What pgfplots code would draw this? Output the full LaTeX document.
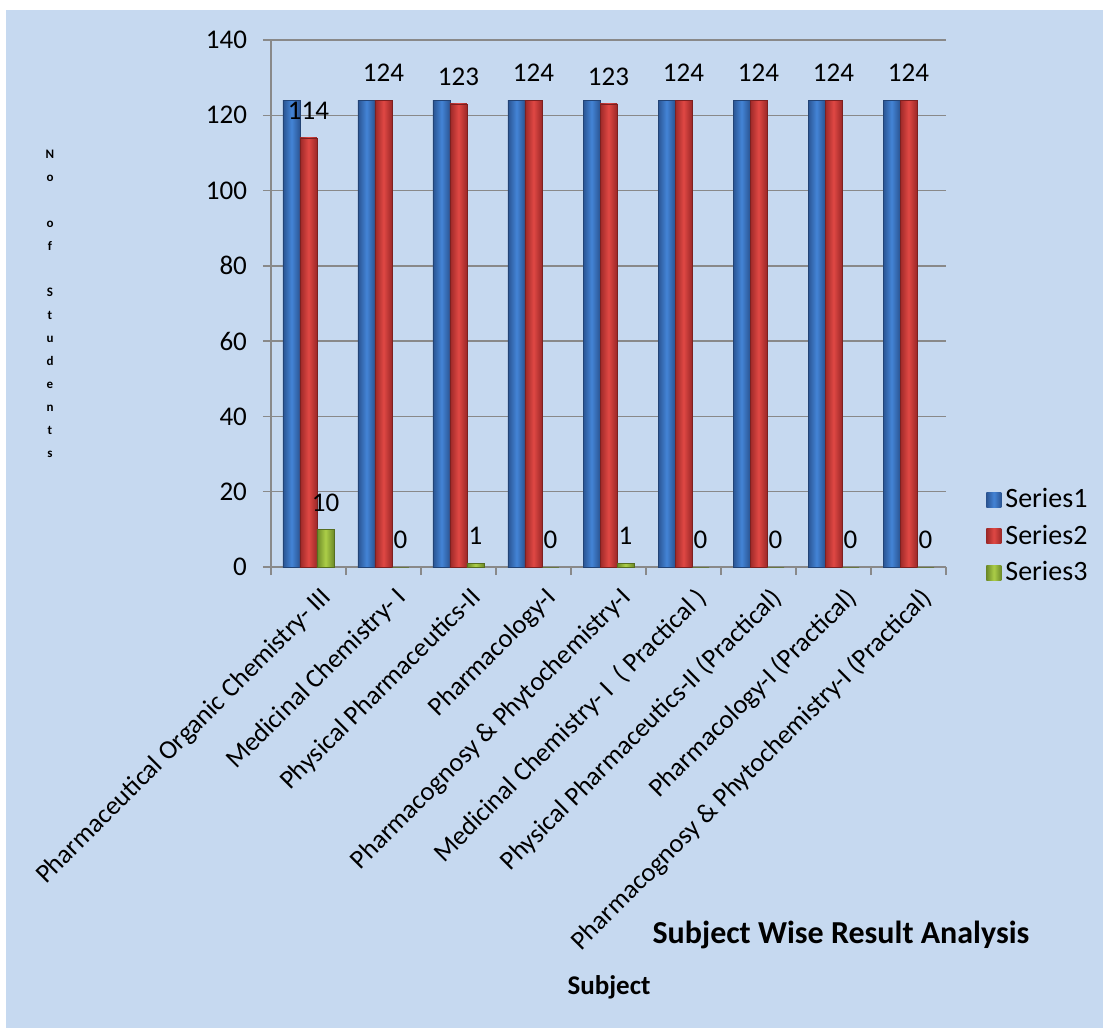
\documentclass[border=0pt]{standalone}
\usepackage{fontspec}
\setmainfont{Carlito}
\usepackage{pgfplots}
\usepackage{pgfplotstable}
\pgfplotsset{compat=1.18}

\definecolor{bgblue}{RGB}{198,217,240}
\definecolor{gridgray}{RGB}{137,137,137}
\definecolor{bluedk}{RGB}{42,84,146}
\definecolor{bluelt}{RGB}{68,132,214}
\definecolor{reddk}{RGB}{156,40,40}
\definecolor{redlt}{RGB}{224,72,68}
\definecolor{grndk}{RGB}{108,138,40}
\definecolor{grnlt}{RGB}{172,206,72}

\pgfplotstableread{
x s1  s2  s3
0 124 114 10
1 124 124 0
2 124 123 1
3 124 124 0
4 124 123 1
5 124 124 0
6 124 124 0
7 124 124 0
8 124 124 0
}\results

\pgfplotsset{
  ser1/.style={draw=bluedk!80!black, line width=0.3pt, left color=bluedk, right color=bluedk, middle color=bluelt},
  ser2/.style={draw=reddk!80!black, line width=0.3pt, left color=reddk, right color=reddk, middle color=redlt},
  ser3/.style={draw=grndk!80!black, line width=0.3pt, left color=grndk, right color=grndk, middle color=grnlt},
}

\begin{document}
\begin{tikzpicture}
% picture frame: 1px = 0.5pt, axis box south west at (0,0)
\useasboundingbox (-135.5pt,-230.5pt) rectangle (416pt,283.5pt);
\fill[white] (-135.5pt,-230.5pt) rectangle (416pt,283.5pt);
\fill[bgblue] (-132.5pt,-230.5pt) rectangle (416pt,278.5pt);

\begin{axis}[
  at={(0,0)}, anchor=south west,
  scale only axis,
  width=337.5pt, height=263.5pt,
  ymin=0, ymax=140, ytick={0,20,...,140},
  xmin=-0.5, xmax=8.5,
  xtick={0,...,8},
  minor xtick={-0.5,0.5,...,8.5},
  major x tick style={draw=none},
  xticklabels={
    Pharmaceutical Organic Chemistry- III,
    Medicinal Chemistry- I,
    Physical Pharmaceutics-II,
    Pharmacology-I,
    Pharmacognosy \& Phytochemistry-I,
    {Medicinal Chemistry- I\ \ (\ Practical\ )},
    Physical Pharmaceutics-II (Practical),
    Pharmacology-I (Practical),
    Pharmacognosy \& Phytochemistry-I (Practical)},
  xticklabel style={rotate=45, anchor=north east, font=\fontsize{13.3}{15}\selectfont, xshift=3.5pt, yshift=-4pt},
  yticklabel style={font=\fontsize{13.5}{16}\selectfont, xshift=-4.5pt},
  /pgf/number format/assume math mode=true,
  axis lines*=left,
  axis line style={gridgray, line width=0.75pt},
  tick style={gridgray, line width=0.75pt},
  tick align=outside,
  major tick length=4pt, minor tick length=4pt,
  ymajorgrids, grid style={gridgray, line width=0.75pt},
  legend style={at={(354.5pt,43.5pt)}, anchor=north west, draw=none, fill=none,
    font=\fontsize{14}{16}\selectfont, row sep=3.2pt,
    /tikz/every even column/.append style={column sep=2pt}},
  legend cell align=left,
  legend image code/.code={\draw[#1, draw=none] (0pt,-3.75pt) rectangle (7.5pt,3.75pt);},
  every node near coord/.append style={anchor=center, yshift=13.5pt, font=\fontsize{13.5}{16}\selectfont, black},
]
% one plot per bar, so that each bar gets its own shading
\pgfplotsinvokeforeach{0,...,8}{
  \addplot[ybar, bar width=8.5pt, bar shift=-8.5pt, ser1, forget plot]
    table[x=x, y=s1, restrict x to domain=#1:#1] {\results};
  \addplot[ybar, bar width=8.5pt, bar shift=0pt, ser2, forget plot, nodes near coords]
    table[x=x, y=s2, restrict x to domain=#1:#1] {\results};
  \addplot[ybar, bar width=8.5pt, bar shift=8.5pt, ser3, forget plot, nodes near coords,
    every node near coord/.append style={xshift=8.5pt}]
    table[x=x, y=s3, restrict x to domain=#1:#1] {\results};
}
\addlegendimage{ser1}\addlegendentry{Series1}
\addlegendimage{ser2}\addlegendentry{Series2}
\addlegendimage{ser3}\addlegendentry{Series3}
\end{axis}

\node[font=\bfseries\fontsize{6.5}{11.5}\selectfont, align=center] at (-110.5pt,131.5pt)
  {N\\o\\ \\o\\f\\ \\S\\t\\u\\d\\e\\n\\t\\s};
\node[font=\bfseries\fontsize{13.5}{16}\selectfont] at (169pt,-210pt) {Subject};
\node[font=\bfseries\fontsize{16}{19}\selectfont] at (285pt,-184pt) {Subject Wise Result Analysis};
\end{tikzpicture}
\end{document}
